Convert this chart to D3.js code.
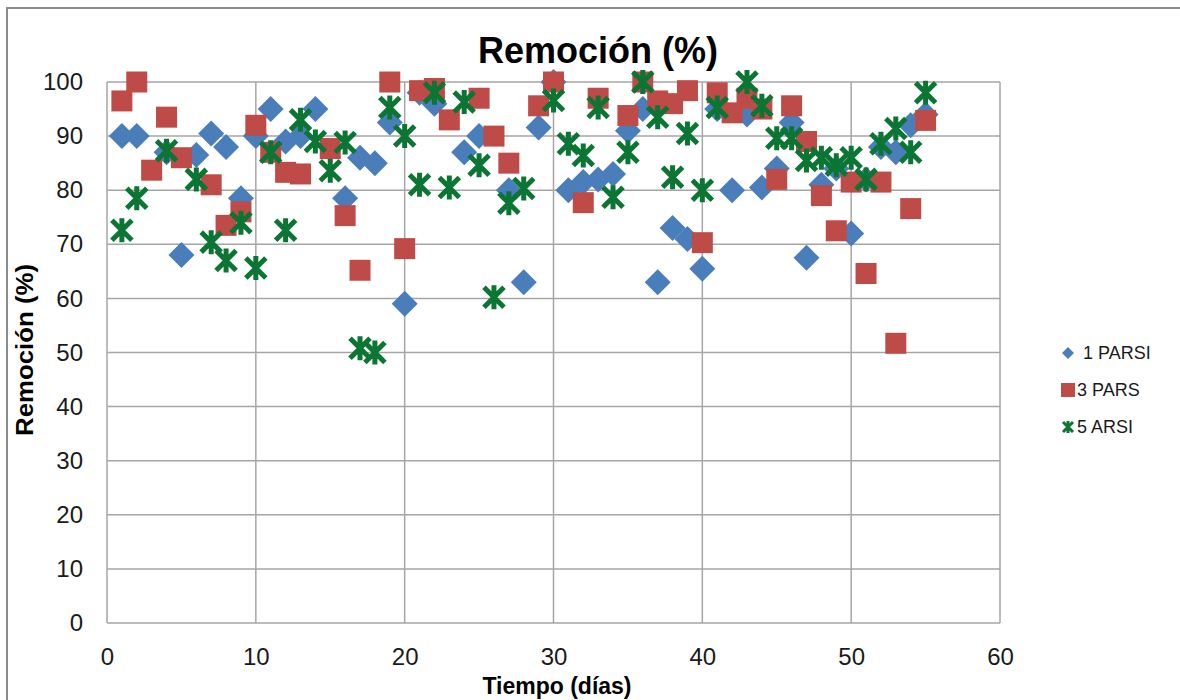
<!DOCTYPE html>
<html>
<head>
<meta charset="utf-8">
<script src="https://cdnjs.cloudflare.com/ajax/libs/d3/7.8.5/d3.min.js"></script>
<style>
  body { margin: 0; background: #fff; font-family: 'Liberation Sans', Arial, sans-serif; }
</style>
</head>
<body>
<div id="chart"></div>
<script>
// days 1..55, null where no point is visible
var days = d3.range(1, 56);

var parsi1 = [90, 90, null, 87, 68, 86.5, 90.5, 88, 78.5, 90,
  95, 89, 90, 95, null, 78.5, 86, 85, 92.5, 59,
  98, 96, null, 87, 90, null, 80, 63, 91.6, 100,
  80, 81.5, 82, 83, 91, 95, 63, 73, 71, 65.5,
  95, 80, 94, 80.5, 84, 92.5, 67.5, 81, 84, 72,
  82, 88, 87, 92, 94];

var pars3 = [96.5, 100, 83.7, 93.5, 86, null, 81, 73.5, 76, 92,
  87, 83.3, 83, null, 87.7, 75.3, 65.2, null, 100, 69.2,
  98.4, 98.8, 93, null, 97, 90, 85, null, 95.6, 100,
  null, 77.7, 97, null, 93.8, 100, 96.5, 96, 98.4, 70.3,
  98, 94.3, 97, 95, 82, 95.6, 89, 79, 72.5, 81.5,
  64.6, 81.5, 51.7, 76.6, 92.9];

var arsi5 = [72.6, 78.5, null, 87.3, null, 82, 70.4, 67, 74, 65.6,
  87, 72.6, 93, 89, 83.6, 88.8, 50.8, 50, 95.3, 90,
  81, 98, 80.5, 96.3, 84.6, 60.2, 77.6, 80.3, null, 96.6,
  88.6, 86.4, 95.3, 78.7, 87, 100, 93.5, 82.4, 90.5, 80,
  95.3, null, 100, 95.6, 89.6, 89.6, 85.5, 86, 84.6, 86,
  82, 88.6, 91.4, 87, 98];

var xTicks = [0, 10, 20, 30, 40, 50, 60];
var yTicks = [0, 10, 20, 30, 40, 50, 60, 70, 80, 90, 100];

var series = [
  { name: "1 PARSI", values: parsi1, color: "#4a7ebb", shape: "diamond" },
  { name: "3 PARS",  values: pars3,  color: "#be4b48", shape: "square" },
  { name: "5 ARSI",  values: arsi5,  color: "#0b7634", shape: "star" }
];

var W = 1180, H = 700;
var margin = { top: 82, right: 180, bottom: 77, left: 107 };
var width = W - margin.left - margin.right,
    height = H - margin.top - margin.bottom;

var svg = d3.select("#chart").append("svg")
    .attr("width", W)
    .attr("height", H);

// outer chart frame
svg.append("rect")
    .attr("x", 7).attr("y", 8)
    .attr("width", W - 6).attr("height", H)
    .attr("fill", "none")
    .attr("stroke", "#8c8c8c")
    .attr("stroke-width", 2);

var g = svg.append("g")
    .attr("transform", "translate(" + margin.left + "," + margin.top + ")");

var x = d3.scaleLinear().domain([0, 60]).range([0, width]);
var y = d3.scaleLinear().domain([0, 100]).range([height, 0]);

// grid
g.append("g").selectAll("line")
  .data(yTicks).enter().append("line")
    .attr("x1", 0).attr("x2", width)
    .attr("y1", function(d) { return y(d); })
    .attr("y2", function(d) { return y(d); })
    .attr("stroke", "#a6a6a6").attr("stroke-width", 1.5);

g.append("g").selectAll("line")
  .data(xTicks).enter().append("line")
    .attr("y1", 0).attr("y2", height)
    .attr("x1", function(d) { return x(d); })
    .attr("x2", function(d) { return x(d); })
    .attr("stroke", "#a6a6a6").attr("stroke-width", 1.5);

// axes (labels only, grid draws the lines)
var xAxis = g.append("g")
    .attr("transform", "translate(0," + height + ")")
    .call(d3.axisBottom(x).tickValues(xTicks).tickSize(0).tickPadding(25));
var yAxis = g.append("g")
    .call(d3.axisLeft(y).tickValues(yTicks).tickSize(0).tickPadding(24));
[xAxis, yAxis].forEach(function(a) {
  a.select(".domain").remove();
  a.selectAll("text")
    .attr("font-family", "'Liberation Sans', Arial, sans-serif")
    .attr("font-size", 24)
    .attr("fill", "#1a1a1a");
});

// markers
function shapePath(shape) {
  if (shape === "diamond") return "M0,-13L13,0L0,13L-13,0Z";
  if (shape === "square") return "M-10.5,-10.5H10.5V10.5H-10.5Z";
  return "M-10,-10L10,10M-10,10L10,-10M0,-12V12";
}

series.forEach(function(s) {
  var pts = days.map(function(d, i) { return { day: d, v: s.values[i] }; })
                .filter(function(p) { return p.v !== null; });
  g.append("g").selectAll("path")
    .data(pts).enter().append("path")
      .attr("transform", function(p) { return "translate(" + x(p.day) + "," + y(p.v) + ")"; })
      .attr("d", shapePath(s.shape))
      .attr("fill", s.shape === "star" ? "none" : s.color)
      .attr("stroke", s.shape === "star" ? s.color : "none")
      .attr("stroke-width", 5);
});

// titles
svg.append("text")
    .attr("x", 598).attr("y", 63)
    .attr("text-anchor", "middle")
    .attr("font-size", 36).attr("font-weight", "bold")
    .text("Remoción (%)");

svg.append("text")
    .attr("x", 557).attr("y", 694)
    .attr("text-anchor", "middle")
    .attr("font-size", 23).attr("font-weight", "bold")
    .text("Tiempo (días)");

svg.append("text")
    .attr("transform", "translate(33,350) rotate(-90)")
    .attr("text-anchor", "middle")
    .attr("font-size", 23).attr("font-weight", "bold")
    .attr("textLength", 172).attr("lengthAdjust", "spacingAndGlyphs")
    .text("Remoción (%)");

// legend
var legend = svg.append("g").attr("transform", "translate(1068,353)");
series.forEach(function(s, i) {
  var row = legend.append("g").attr("transform", "translate(0," + (i * 37) + ")");
  var mark = row.append("path");
  if (s.shape === "diamond") {
    mark.attr("d", "M0,-6L6,0L0,6L-6,0Z").attr("fill", s.color);
  } else if (s.shape === "square") {
    mark.attr("d", "M-7,-7H7V7H-7Z").attr("fill", s.color);
  } else {
    mark.attr("d", "M-5,-5L5,5M-5,5L5,-5M0,-6V6").attr("stroke", s.color)
        .attr("stroke-width", 3).attr("fill", "none");
  }
  row.append("text")
    .attr("x", s.shape === "diamond" ? 15 : 9).attr("y", 6)
    .attr("font-size", 18).attr("fill", "#1a1a1a")
    .text(s.name);
});
</script>
</body>
</html>
